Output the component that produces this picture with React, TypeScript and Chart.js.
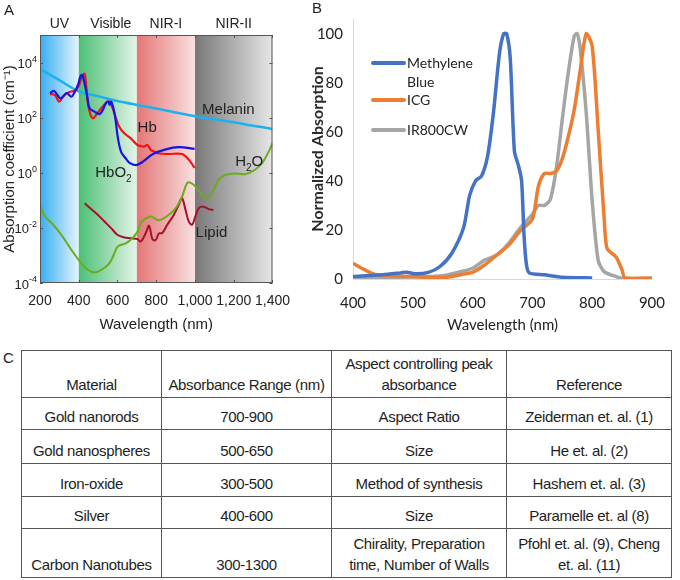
import React, { useEffect, useRef } from "react";
import { Chart, registerables } from "chart.js";

Chart.register(...registerables);

// ---------- Panel A data ----------
const A_X_TICKS = [200, 400, 600, 800, 1000, 1200, 1400];
const A_Y_EXPONENTS = [-4, -2, 0, 2, 4];
const BAND_EDGES = [200, 400, 700, 1000, 1400];
const BAND_NAMES = ["UV", "Visible", "NIR-I", "NIR-II"];

const MELANIN_NM = [200, 300, 400, 500, 600, 700, 800, 900, 1000, 1100, 1200, 1300, 1400];
const MELANIN_MU = [5750, 2300, 910, 600, 400, 290, 215, 155, 112, 87, 68, 51, 39];

const HB_NM = [251, 277, 299, 319, 345, 371, 388, 405, 417, 430, 439, 447, 461, 473, 490, 516, 541, 558, 575, 592, 609, 635, 669, 703, 737, 754, 772, 789, 814, 866, 933, 968, 998];
const HB_MU = [725, 660, 380, 575, 810, 930, 1020, 1780, 3090, 3890, 1350, 330, 126, 95, 126, 219, 347, 380, 219, 95, 47, 27, 17.8, 10.2, 8.9, 10.2, 6.8, 5.9, 5.0, 4.8, 4.8, 3.0, 1.5];

const HBO2_NM = [251, 273, 290, 307, 337, 362, 376, 396, 408, 417, 430, 444, 456, 481, 507, 524, 541, 553, 560, 567, 579, 589, 601, 618, 640, 662, 696, 730, 781, 849, 917, 998];
const HBO2_MU = [776, 933, 660, 500, 776, 575, 776, 1550, 3090, 3550, 1780, 575, 219, 166, 135, 191, 347, 380, 288, 380, 219, 95, 20.4, 5.9, 3.5, 2.3, 1.9, 2.5, 4.7, 7.1, 8.5, 7.4];

const WATER_NM = [200, 226, 260, 311, 362, 413, 447, 481, 516, 558, 584, 601, 644, 677, 703, 720, 746, 772, 814, 865, 900, 933, 959, 976, 1002, 1036, 1062, 1087, 1121, 1155, 1206, 1257, 1308, 1351, 1385, 1400];
const WATER_MU = [0.068, 0.026, 0.015, 0.0055, 0.0016, 0.00052, 0.0003, 0.00024, 0.0003, 0.00052, 0.0012, 0.0021, 0.0028, 0.0042, 0.0072, 0.015, 0.022, 0.026, 0.019, 0.03, 0.051, 0.135, 0.42, 0.44, 0.32, 0.16, 0.12, 0.18, 0.55, 0.83, 0.95, 0.89, 1.26, 2.5, 6.8, 12];

const LIPID_NM = [430, 464, 498, 533, 567, 601, 635, 669, 703, 720, 746, 763, 780, 797, 814, 831, 857, 891, 916, 933, 951, 968, 985, 1002, 1019, 1044, 1070, 1095];
const LIPID_MU = [0.078, 0.048, 0.03, 0.017, 0.0098, 0.0055, 0.0045, 0.0042, 0.0039, 0.0032, 0.0065, 0.012, 0.0039, 0.0036, 0.0063, 0.0065, 0.013, 0.03, 0.068, 0.12, 0.045, 0.017, 0.013, 0.026, 0.051, 0.059, 0.048, 0.045];

// ---------- Panel B data ----------
const B_X_TICKS = [400, 500, 600, 700, 800, 900];
const B_Y_TICKS = [0, 20, 40, 60, 80, 100];

const MB_NM = [400, 450, 480, 490, 505, 526, 545, 565, 585, 595, 605, 615, 625, 635, 645, 652, 657, 663, 670, 677, 682, 686, 690, 695, 720, 750, 800];
const MB_ABS = [1, 1.7, 2.5, 2.8, 2.1, 2.7, 5, 10.4, 21, 34, 40, 42, 50, 68, 92, 100, 100, 90, 52, 46, 40, 18, 6, 2.4, 1.7, 0.7, 0.4];

const ICG_NM = [400, 420, 440, 500, 550, 585, 600, 620, 640, 660, 680, 700, 710, 720, 730, 740, 750, 760, 770, 780, 790, 800, 810, 820, 825, 840, 850, 855, 900];
const ICG_ABS = [6.4, 3.7, 1.7, 1, 0.5, 2, 2.7, 5.7, 9.7, 13.7, 19.7, 24.4, 37.7, 43, 43, 44, 49, 58, 69, 85, 100, 95, 61, 25, 12.4, 9, 3.7, 0.4, 0.3];

const IR_NM = [400, 500, 550, 580, 600, 620, 640, 660, 680, 700, 710, 720, 730, 740, 750, 760, 770, 775, 780, 790, 800, 810, 820, 840, 850, 900];
const IR_ABS = [0.5, 0.8, 1.3, 3, 4.4, 7.7, 9.7, 14.4, 21, 26.4, 30, 30, 32.4, 45, 65, 84, 99, 100, 94, 68, 32, 7.7, 3, 1, 0.3, 0.3];

// ---------- Panel C data ----------
const TABLE_HEADER = ["Material", "Absorbance Range (nm)", "Aspect controlling peak\nabsorbance", "Reference"];
const MATERIALS = ["Gold nanorods", "Gold nanospheres", "Iron-oxide", "Silver", "Carbon Nanotubes"];
const RANGES = ["700-900", "500-650", "300-500", "400-600", "300-1300"];
const ASPECTS = ["Aspect Ratio", "Size", "Method of synthesis", "Size", "Chirality, Preparation\ntime, Number of Walls"];
const REFERENCES = ["Zeiderman et. al. (1)", "He et. al. (2)", "Hashem et. al. (3)", "Paramelle et. al (8)", "Pfohl et. al. (9), Cheng\net. al. (11)"];

const zip = (xs: number[], ys: number[]) => xs.map((x, i) => ({ x, y: ys[i] }));

const FONT_A = "'Liberation Sans', Arial, sans-serif";
const FONT_B = "Lato, 'Open Sans', sans-serif";
const FONT_C = "'Liberation Sans', Arial, sans-serif";

const BAND_COLORS: [string, string][] = [
  ["#36aef0", "#e6f3fd"],
  ["#4cbf76", "#e3f4e7"],
  ["#e47676", "#f9e0e0"],
  ["#787878", "#e6e6e6"],
];

const A_ANNOT = [
  { text: "Melanin", x: 1172, y: 190 },
  { text: "Hb", x: 753, y: 43 },
  { text: "HbO", sub: "2", x: 579, y: 1 },
  { text: "H", sub: "2", after: "O", x: 1280, y: 2.5 },
  { text: "Lipid", x: 1085, y: 0.0066 },
];

const panelAPlugin = {
  id: "panelA",
  beforeDatasetsDraw(chart: any) {
    const { ctx, chartArea: ca, scales } = chart;
    const x = scales.x;
    ctx.save();
    for (let i = 0; i < BAND_NAMES.length; i++) {
      const x0 = x.getPixelForValue(BAND_EDGES[i]);
      const x1 = x.getPixelForValue(BAND_EDGES[i + 1]);
      const g = ctx.createLinearGradient(x0, 0, x1, 0);
      g.addColorStop(0, BAND_COLORS[i][0]);
      g.addColorStop(1, BAND_COLORS[i][1]);
      ctx.fillStyle = g;
      ctx.fillRect(x0, ca.top, x1 - x0, ca.bottom - ca.top);
    }
    ctx.restore();
  },
  afterDatasetsDraw(chart: any) {
    const { ctx, chartArea: ca, scales } = chart;
    const x = scales.x;
    const y = scales.y;
    ctx.save();
    ctx.strokeStyle = "#555";
    ctx.lineWidth = 1;
    ctx.strokeRect(ca.left + 0.5, ca.top + 0.5, ca.right - ca.left - 1, ca.bottom - ca.top - 1);
    ctx.beginPath();
    A_X_TICKS.forEach((v) => {
      const px = Math.round(x.getPixelForValue(v)) + 0.5;
      ctx.moveTo(px, ca.bottom);
      ctx.lineTo(px, ca.bottom - 3);
      ctx.moveTo(px, ca.top);
      ctx.lineTo(px, ca.top + 3);
    });
    A_Y_EXPONENTS.forEach((e) => {
      const py = Math.round(y.getPixelForValue(Math.pow(10, e))) + 0.5;
      ctx.moveTo(ca.left, py);
      ctx.lineTo(ca.left + 3, py);
      ctx.moveTo(ca.right, py);
      ctx.lineTo(ca.right - 3, py);
    });
    ctx.stroke();
    ctx.fillStyle = "#222";
    ctx.textBaseline = "middle";
    ctx.textAlign = "left";
    A_Y_EXPONENTS.forEach((e) => {
      const py = y.getPixelForValue(Math.pow(10, e));
      const expStr = e < 0 ? "-" + Math.abs(e) : String(e);
      ctx.font = `9px ${FONT_A}`;
      const ew = ctx.measureText(expStr).width;
      ctx.font = `13px ${FONT_A}`;
      const bw = ctx.measureText("10").width;
      const x0 = ca.left - 3 - ew - bw;
      ctx.fillText("10", x0, py + 2);
      ctx.font = `9px ${FONT_A}`;
      ctx.fillText(expStr, x0 + bw, py - 3);
    });
    ctx.font = `14px ${FONT_A}`;
    ctx.textAlign = "center";
    for (let i = 0; i < BAND_NAMES.length; i++) {
      const cx = (x.getPixelForValue(BAND_EDGES[i]) + x.getPixelForValue(BAND_EDGES[i + 1])) / 2;
      ctx.fillText(BAND_NAMES[i], cx + (i === 1 ? 3 : 0), ca.top - 11);
    }
    A_ANNOT.forEach((a) => {
      const px = x.getPixelForValue(a.x);
      const py = y.getPixelForValue(a.y);
      ctx.font = `15px ${FONT_A}`;
      const w1 = ctx.measureText(a.text).width;
      ctx.font = `10px ${FONT_A}`;
      const w2 = a.sub ? ctx.measureText(a.sub).width : 0;
      ctx.font = `15px ${FONT_A}`;
      const w3 = a.after ? ctx.measureText(a.after).width : 0;
      let sx = px - (w1 + w2 + w3) / 2;
      ctx.textAlign = "left";
      ctx.fillText(a.text, sx, py);
      sx += w1;
      if (a.sub) {
        ctx.font = `10px ${FONT_A}`;
        ctx.fillText(a.sub, sx, py + 6);
        sx += w2;
      }
      if (a.after) {
        ctx.font = `15px ${FONT_A}`;
        ctx.fillText(a.after, sx, py);
      }
    });
    ctx.restore();
  },
};

const LEGEND_B_POS = [
  { y: 63, lines: ["Methylene", "Blue"] },
  { y: 100, lines: ["ICG"] },
  { y: 130, lines: ["IR800CW"] },
];

const panelBPlugin = {
  id: "panelB",
  afterDatasetsDraw(chart: any) {
    const { ctx } = chart;
    ctx.save();
    chart.data.datasets.forEach((ds: any, i: number) => {
      const pos = LEGEND_B_POS[i];
      ctx.strokeStyle = ds.borderColor;
      ctx.lineWidth = 4;
      ctx.lineCap = "round";
      ctx.beginPath();
      ctx.moveTo(73, pos.y);
      ctx.lineTo(104, pos.y);
      ctx.stroke();
      ctx.fillStyle = "#222";
      ctx.font = `14px ${FONT_B}`;
      ctx.textBaseline = "middle";
      ctx.textAlign = "left";
      pos.lines.forEach((ln, k) => ctx.fillText(ln, 107, pos.y + k * 19.5));
    });
    ctx.restore();
  },
};

function PanelA() {
  const ref = useRef<HTMLCanvasElement>(null);
  useEffect(() => {
    const mk = (label: string, xs: number[], ys: number[], color: string, w: number) => ({
      label,
      data: zip(xs, ys),
      borderColor: color,
      backgroundColor: color,
      borderWidth: w,
      pointRadius: 0,
      tension: 0.35,
      fill: false,
    });
    const chart = new Chart(ref.current!, {
      type: "line",
      data: {
        datasets: [
          mk("Water", WATER_NM, WATER_MU, "#6aab1f", 2),
          mk("Lipid", LIPID_NM, LIPID_MU, "#a3122a", 2),
          mk("HbO2", HBO2_NM, HBO2_MU, "#1414e6", 2.2),
          mk("Hb", HB_NM, HB_MU, "#f21414", 2.2),
          mk("Melanin", MELANIN_NM, MELANIN_MU, "#1cb2ee", 2.5),
        ],
      },
      options: {
        animation: false,
        responsive: false,
        devicePixelRatio: 1,
        layout: { padding: { top: 35, right: 25.5, left: 0, bottom: 0 } },
        plugins: { legend: { display: false }, tooltip: { enabled: false } },
        scales: {
          x: {
            type: "linear",
            min: 200,
            max: 1400,
            afterBuildTicks: (s: any) => {
              s.ticks = A_X_TICKS.map((v) => ({ value: v }));
            },
            afterFit: (s: any) => {
              s.height = 57;
            },
            grid: { display: false, drawTicks: false },
            border: { display: false },
            ticks: {
              padding: 10,
              maxRotation: 0,
              autoSkip: false,
              color: "#222",
              font: { family: FONT_A, size: 14 },
              callback: (v: any) => Number(v).toLocaleString("en-US"),
            },
            title: {
              display: true,
              text: "Wavelength (nm)",
              color: "#222",
              font: { family: FONT_A, size: 15 },
              padding: { top: 0, bottom: 6 },
            },
          },
          y: {
            type: "logarithmic",
            min: 1e-4,
            max: 1e5,
            afterBuildTicks: (s: any) => {
              s.ticks = A_Y_EXPONENTS.map((e) => ({ value: Math.pow(10, e) }));
            },
            afterFit: (s: any) => {
              s.width = 40;
            },
            grid: { display: false, drawTicks: false },
            border: { display: false },
            ticks: { display: false },
            title: {
              display: true,
              text: "Absorption coefficient (cm⁻¹)",
              color: "#222",
              font: { family: FONT_A, size: 15 },
              padding: { top: 1, bottom: 0 },
            },
          },
        },
      },
      plugins: [panelAPlugin],
    } as any);
    return () => chart.destroy();
  }, []);
  return <canvas ref={ref} width={300} height={340} style={{ position: "absolute", left: 0, top: 0, width: 300, height: 340 }} />;
}

function PanelB() {
  const ref = useRef<HTMLCanvasElement>(null);
  useEffect(() => {
    const mk = (label: string, xs: number[], ys: number[], color: string) => ({
      label,
      data: zip(xs, ys),
      borderColor: color,
      backgroundColor: color,
      borderWidth: 3.5,
      pointRadius: 0,
      tension: 0.25,
      fill: false,
    });
    const chart = new Chart(ref.current!, {
      type: "line",
      data: {
        datasets: [
          mk("Methylene Blue", MB_NM, MB_ABS, "#4472c4"),
          mk("ICG", ICG_NM, ICG_ABS, "#ed7d31"),
          mk("IR800CW", IR_NM, IR_ABS, "#a5a5a5"),
        ],
      },
      options: {
        animation: false,
        responsive: false,
        devicePixelRatio: 1,
        layout: { padding: { top: 14, right: 13, left: 0, bottom: 0 } },
        plugins: { legend: { display: false }, tooltip: { enabled: false } },
        scales: {
          x: {
            type: "linear",
            min: 400,
            max: 900,
            afterBuildTicks: (s: any) => {
              s.ticks = B_X_TICKS.map((v) => ({ value: v }));
            },
            afterFit: (s: any) => {
              s.height = 61;
            },
            grid: { display: false, drawTicks: false },
            border: { display: true, color: "#d9d9d9", width: 1 },
            ticks: {
              padding: 15,
              maxRotation: 0,
              autoSkip: false,
              color: "#222",
              font: { family: FONT_B, size: 15 },
            },
            title: {
              display: true,
              text: "Wavelength (nm)",
              color: "#222",
              font: { family: FONT_B, size: 15 },
              padding: { top: 0, bottom: 6 },
            },
          },
          y: {
            type: "linear",
            min: 0,
            max: 106,
            afterBuildTicks: (s: any) => {
              s.ticks = B_Y_TICKS.map((v) => ({ value: v }));
            },
            afterFit: (s: any) => {
              s.width = 53;
            },
            grid: { display: false, drawTicks: false },
            border: { display: true, color: "#d9d9d9", width: 1 },
            ticks: {
              padding: 10,
              color: "#222",
              font: { family: FONT_B, size: 15 },
            },
            title: {
              display: true,
              text: "Normalized Absorption",
              color: "#2a2a2a",
              font: { family: FONT_B, size: 16, weight: "bold" },
              padding: { top: 8, bottom: 0 },
            },
          },
        },
      },
      plugins: [panelBPlugin],
    } as any);
    return () => chart.destroy();
  }, []);
  return <canvas ref={ref} width={380} height={340} style={{ position: "absolute", left: 300, top: 0, width: 380, height: 340 }} />;
}

const COL_WIDTHS = [140, 170, 175, 165];
const ROW_HEIGHTS = [47, 32, 34, 33, 32, 49];

function Table() {
  const cell: React.CSSProperties = {
    border: "1.5px solid #555",
    textAlign: "center",
    verticalAlign: "bottom",
    padding: "0 2px 2px 2px",
    lineHeight: "21px",
    whiteSpace: "pre",
    overflow: "visible",
  };
  const rows = MATERIALS.map((m, i) => [m, RANGES[i], ASPECTS[i], REFERENCES[i]]);
  return (
    <table
      style={{
        position: "absolute",
        left: 21,
        top: 350,
        width: 650,
        borderCollapse: "collapse",
        tableLayout: "fixed",
        fontFamily: FONT_C,
        fontSize: 15,
        letterSpacing: "-0.35px",
        color: "#1e1e1e",
      }}
    >
      <colgroup>
        {COL_WIDTHS.map((w, i) => (
          <col key={i} style={{ width: w }} />
        ))}
      </colgroup>
      <tbody>
        <tr style={{ height: ROW_HEIGHTS[0] }}>
          {TABLE_HEADER.map((h, i) => (
            <td key={i} style={cell}>
              {h}
            </td>
          ))}
        </tr>
        {rows.map((r, i) => (
          <tr key={i} style={{ height: ROW_HEIGHTS[i + 1] }}>
            {r.map((c, j) => (
              <td key={j} style={cell}>
                {c}
              </td>
            ))}
          </tr>
        ))}
      </tbody>
    </table>
  );
}

export default function App() {
  const letter: React.CSSProperties = {
    position: "absolute",
    fontFamily: FONT_A,
    fontSize: 15,
    color: "#222",
    lineHeight: "18px",
  };
  return (
    <div style={{ position: "fixed", left: 0, top: 0, width: 680, height: 580, background: "#fff", overflow: "hidden" }}>
      <PanelA />
      <PanelB />
      <div style={{ ...letter, left: 4, top: 1 }}>A</div>
      <div style={{ ...letter, left: 312, top: -1 }}>B</div>
      <div style={{ ...letter, left: 3, top: 349 }}>C</div>
      <Table />
    </div>
  );
}
